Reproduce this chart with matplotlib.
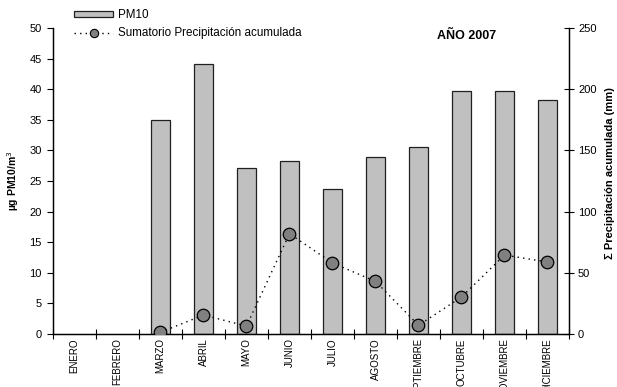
import matplotlib
matplotlib.use("Agg")
import matplotlib.pyplot as plt
import numpy as np
from matplotlib.patches import Patch
from matplotlib.lines import Line2D

plt.rcParams['font.family'] = ['Liberation Sans', 'DejaVu Sans']

months = ["ENERO", "FEBRERO", "MARZO", "ABRIL", "MAYO", "JUNIO", "JULIO",
          "AGOSTO", "SEPTIEMBRE", "OCTUBRE", "NOVIEMBRE", "DICIEMBRE"]
pm10 = [np.nan, np.nan, 35.0, 44.1, 27.2, 28.3, 23.7, 28.9, 30.6, 39.7, 39.7, 38.2]
precip = [np.nan, np.nan, 1.4, 15.5, 6.5, 82.0, 58.0, 43.0, 7.1, 30.2, 64.5, 58.8]

W, H = 617, 387
fig = plt.figure(figsize=(W / 100, H / 100), dpi=100)
ax = fig.add_axes([53 / W, 1 - 334 / H, (569 - 53) / W, (334 - 28) / H])
ax2 = ax.twinx()

x = np.arange(len(months))
ax.bar(x, pm10, width=0.42, color='#c0c0c0', edgecolor='#202020', linewidth=0.9, zorder=2)
ax.set_xlim(-0.5, len(months) - 0.5)
ax.set_ylim(0, 50)
ax.set_yticks(np.arange(0, 51, 5))
ax.tick_params(axis='y', direction='out', length=4, width=0.8, labelsize=8, pad=4)
ax.set_xticks(np.arange(-0.5, len(months) - 0.4, 1))
ax.set_xticklabels([])
ax.set_xticks(x, minor=True)
ax.set_xticklabels(months, minor=True, rotation=90, fontsize=7, va='top')
ax.tick_params(axis='x', which='major', direction='inout', length=7, width=0.8)
ax.tick_params(axis='x', which='minor', length=0, pad=3)
ax.spines['top'].set_visible(False)
ax.set_ylabel('µg PM10/m$^3$', fontsize=7.5, fontweight='bold', labelpad=6)

ax2.plot(x, precip, linestyle=(0, (1, 3)), color='black', linewidth=1.0,
         marker='o', markersize=9, markerfacecolor='#808080',
         markeredgecolor='#000000', markeredgewidth=0.9, zorder=3)
ax2.set_ylim(0, 250)
ax2.set_yticks(np.arange(0, 251, 50))
ax2.tick_params(axis='y', direction='inout', length=7, width=0.8, labelsize=8, pad=3)
ax2.spines['top'].set_visible(False)
ax2.set_ylabel('Σ Precipitación acumulada (mm)', fontsize=8, fontweight='bold',
               rotation=90, labelpad=6)
ax2.yaxis.label.set_y(0.525)
for a in (ax, ax2):
    for s in a.spines.values():
        s.set_linewidth(0.9)

fig.text(467 / W, 1 - 36 / H, 'AÑO 2007', fontsize=9, fontweight='bold',
         ha='center', va='center')

handles = [Patch(facecolor='#c0c0c0', edgecolor='#202020', linewidth=0.9),
           Line2D([0], [0], linestyle=(0, (1, 3)), color='black', linewidth=1.0,
                  marker='o', markersize=6, markerfacecolor='#808080',
                  markeredgecolor='#000000', markeredgewidth=0.8)]
fig.legend(handles, ['PM10', 'Sumatorio Precipitación acumulada'],
           loc='upper left', bbox_to_anchor=(72 / W, 1 - 7 / H),
           frameon=False, fontsize=8.4, handlelength=3.3, handleheight=0.35,
           handletextpad=0.45, labelspacing=0.5, borderaxespad=0, borderpad=0.2)

fig.savefig('out.png', dpi=100)
